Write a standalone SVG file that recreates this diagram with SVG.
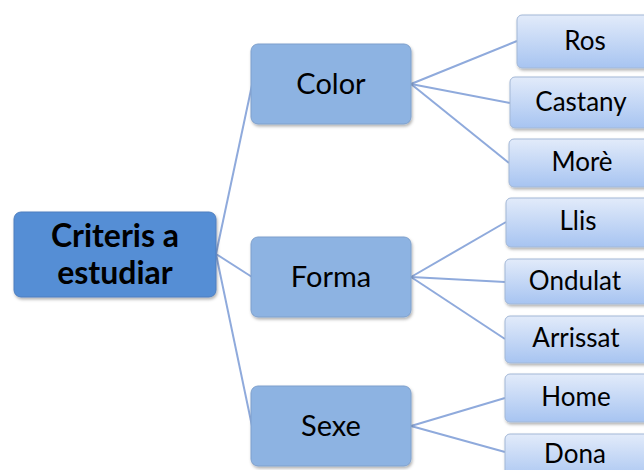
<svg xmlns="http://www.w3.org/2000/svg" width="644" height="470" viewBox="0 0 644 470">
<defs>
<linearGradient id="leafg" x1="0" y1="0" x2="0" y2="1">
<stop offset="0" stop-color="#E2EBFA"/>
<stop offset="1" stop-color="#A7C4F1"/>
</linearGradient>
<filter id="sh" x="-10%" y="-10%" width="130%" height="140%">
<feDropShadow dx="1" dy="2" stdDeviation="1.5" flood-color="#000" flood-opacity="0.3"/>
</filter>
<style>
.root{fill:#558ED5;stroke:#4F7FBF;stroke-width:1;filter:url(#sh)}
.mid{fill:#8DB3E2;stroke:#7FA0CC;stroke-width:1;filter:url(#sh)}
.leaf{fill:url(#leafg);stroke:#A3B8D6;stroke-width:1;filter:url(#sh)}
.t{font-family:Lato,"Open Sans",sans-serif;fill:#000;text-anchor:middle}
.tr{font-size:32px;font-weight:bold}
.tm{font-size:29px}
.tl{font-size:26px}
.c{stroke:#8FAADC;stroke-width:2;fill:none}
</style>
</defs>
<g id="connectors">
<line class="c" x1="216" y1="254" x2="252" y2="85"/>
<line class="c" x1="216" y1="254" x2="252" y2="277"/>
<line class="c" x1="216" y1="254" x2="252" y2="426"/>
<line class="c" x1="411" y1="84" x2="517" y2="41"/>
<line class="c" x1="411" y1="84" x2="510" y2="103"/>
<line class="c" x1="411" y1="84" x2="509" y2="163"/>
<line class="c" x1="411" y1="277" x2="506" y2="222"/>
<line class="c" x1="411" y1="277" x2="505" y2="282"/>
<line class="c" x1="411" y1="277" x2="505" y2="339"/>
<line class="c" x1="411" y1="426" x2="505" y2="398"/>
<line class="c" x1="411" y1="426" x2="505" y2="452"/>
</g>
<g id="root">
<rect class="root" x="14" y="212" width="202" height="85" rx="7"/>
<text class="t tr" x="115" y="247">Criteris a</text>
<text class="t tr" x="115" y="284">estudiar</text>
</g>
<g id="color">
<rect class="mid" x="251" y="44" width="160" height="80" rx="7"/>
<text class="t tm" x="331" y="94">Color</text>
</g>
<g id="forma">
<rect class="mid" x="251" y="237" width="160" height="80" rx="7"/>
<text class="t tm" x="331" y="287">Forma</text>
</g>
<g id="sexe">
<rect class="mid" x="251" y="386" width="160" height="80" rx="7"/>
<text class="t tm" x="331" y="436">Sexe</text>
</g>
<g id="ros">
<rect class="leaf" x="517" y="15" width="140" height="53" rx="5"/>
<text class="t tl" x="585" y="50">Ros</text>
</g>
<g id="castany">
<rect class="leaf" x="510" y="77" width="150" height="51" rx="5"/>
<text class="t tl" x="581" y="111">Castany</text>
</g>
<g id="more">
<rect class="leaf" x="509" y="139" width="150" height="48" rx="5"/>
<text class="t tl" x="582" y="171">Morè</text>
</g>
<g id="llis">
<rect class="leaf" x="506" y="198" width="150" height="49" rx="5"/>
<text class="t tl" x="578" y="230">Llis</text>
</g>
<g id="ondulat">
<rect class="leaf" x="505" y="259" width="150" height="45" rx="5"/>
<text class="t tl" x="575" y="290">Ondulat</text>
</g>
<g id="arrissat">
<rect class="leaf" x="505" y="316" width="150" height="47" rx="5"/>
<text class="t tl" x="576" y="347">Arrissat</text>
</g>
<g id="home">
<rect class="leaf" x="505" y="374" width="150" height="48" rx="5"/>
<text class="t tl" x="576" y="406">Home</text>
</g>
<g id="dona">
<rect class="leaf" x="505" y="434" width="150" height="48" rx="5"/>
<text class="t tl" x="575" y="463">Dona</text>
</g>
</svg>
